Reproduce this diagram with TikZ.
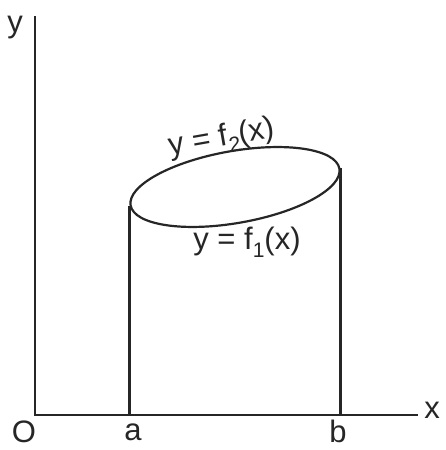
\documentclass[tikz,border=0pt]{standalone}
\usepackage{fontspec}
\setmainfont{Liberation Sans}
\usetikzlibrary{shapes.geometric}
\begin{document}
\begin{tikzpicture}[x=1pt,y=1pt,
  ln/.style={line width=2.2pt, black!85},
  lab/.style={font=\fontsize{31}{33}\selectfont, inner sep=0pt, text=black!85}]
\useasboundingbox (0,0) rectangle (445,450);
\coordinate (O) at (35,35);
\coordinate (ytop) at (35,434);
\coordinate (xend) at (418,35);
\draw[ln] (ytop) -- (O) -- (xend);
\node[draw, ellipse, line width=2.2pt, draw=black!85, minimum width=212pt, minimum height=72pt, inner sep=0pt, rotate=10] (E) at (235,263) {};
\draw[ln] (E.west) -- (E.west |- O);
\draw[ln] (E.east) -- (E.east |- O);
\node[lab] (ylab) at (15,422) {y};
\node[lab] (xlab) at (432,40) {x};
\node[lab] (olab) at (24,18) {O};
\node[lab] (alab) at (133,18) {a};
\node[lab] (blab) at (338,19) {b};
\node[lab, rotate=10] (f2) at (222,311) {y = f\raisebox{-0.25em}{\fontsize{21}{23}\selectfont 2}(x)};
\node[lab] (f1) at (247,208) {y = f\raisebox{-0.25em}{\fontsize{21}{23}\selectfont 1}(x)};
\end{tikzpicture}
\end{document}
